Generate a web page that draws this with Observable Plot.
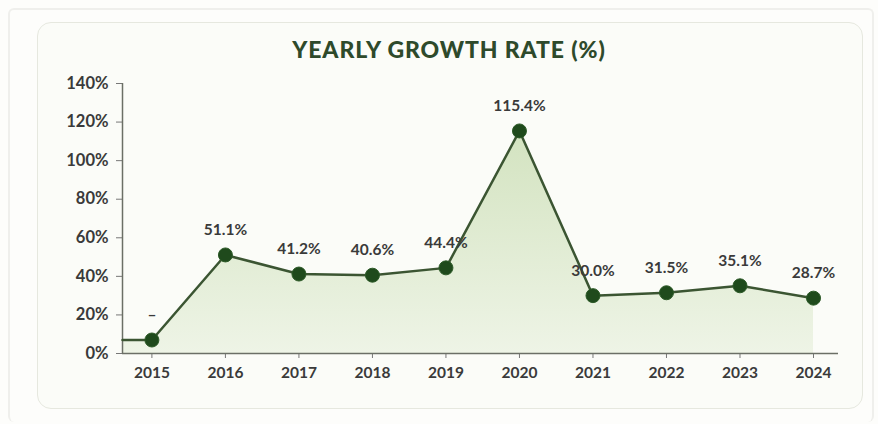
<!DOCTYPE html>
<html><head><meta charset="utf-8">
<script src="https://cdn.jsdelivr.net/npm/d3@7"></script>
<script src="https://cdn.jsdelivr.net/npm/@observablehq/plot@0.6"></script>
<style>
html,body{margin:0;padding:0;background:#fdfdfb;width:878px;height:424px;overflow:hidden;font-family:Lato,"Open Sans",sans-serif;}
#outer{position:absolute;left:8px;top:8px;width:862px;height:412px;border:2px solid #efefec;border-bottom:none;border-radius:6px;}
#card{position:absolute;left:37px;top:22px;width:824px;height:385px;border:1.5px solid #e6e8df;border-radius:14px;background:#fbfcf8;}
#title{position:absolute;left:36px;top:35px;width:826px;text-align:center;font-family:Lato,sans-serif;font-weight:900;font-size:23px;color:#2e4a2b;letter-spacing:0.9px;}
#chart{position:absolute;left:36px;top:70px;}
</style></head>
<body>
<div id="outer"></div>
<div id="card"></div>
<div id="title">YEARLY GROWTH RATE (%)</div>
<div id="chart"></div>
<script>
const years = [2015, 2016, 2017, 2018, 2019, 2020, 2021, 2022, 2023, 2024];
const growth = [7, 51.1, 41.2, 40.6, 44.4, 115.4, 30.0, 31.5, 35.1, 28.7];
const labels = ["–", "51.1%", "41.2%", "40.6%", "44.4%", "115.4%", "30.0%", "31.5%", "35.1%", "28.7%"];
const yTicks = [0, 20, 40, 60, 80, 100, 120, 140];

const xDomain = [2014.6, 2024.34];
const data = years.map((y, i) => ({year: y, value: growth[i], label: labels[i]}));
const lineData = [{year: xDomain[0], value: growth[0]}, ...data];

const chart = Plot.plot({
  width: 826, height: 330,
  marginLeft: 86, marginRight: 24, marginTop: 13, marginBottom: 47,
  style: {fontFamily: "Lato, 'Open Sans', sans-serif", fontSize: "15.5px", color: "#333", background: "transparent"},
  x: {domain: xDomain, ticks: years, tickFormat: d => String(d), tickSize: 5, tickPadding: 8, label: null},
  y: {domain: [0, 140], ticks: yTicks, tickFormat: d => d + "%", tickSize: 6, tickPadding: 8, label: null},
  marks: [
    Plot.areaY(lineData, {x: "year", y: "value", fill: "url(#areaGrad)"}),
    Plot.ruleY([0], {stroke: "#6b6f66", strokeWidth: 1.5}),
    Plot.ruleX([xDomain[0]], {stroke: "#6b6f66", strokeWidth: 1.5}),
    Plot.lineY(lineData, {x: "year", y: "value", stroke: "#3b5532", strokeWidth: 2.5}),
    Plot.dot(data, {x: "year", y: "value", r: 7, fill: "#1f4a1c", stroke: "#2c5a27", strokeWidth: 1}),
    Plot.text(data, {x: "year", y: "value", text: "label", dy: -25, fontSize: 15.5, fontWeight: 700, fill: "#3a3a3a"})
  ]
});
const svg = d3.select(chart);
const defs = svg.insert("defs", ":first-child");
const g = defs.append("linearGradient").attr("id", "areaGrad").attr("x1", 0).attr("y1", 0).attr("x2", 0).attr("y2", 1);
g.append("stop").attr("offset", "0%").attr("stop-color", "#d3e3c0");
g.append("stop").attr("offset", "100%").attr("stop-color", "#eef4e6");
svg.selectAll("[aria-label='x-axis tick label'] text").attr("font-weight", 700).attr("fill", "#3a3a3a");
svg.selectAll("[aria-label='y-axis tick label'] text").attr("font-weight", 700).attr("fill", "#3a3a3a").attr("font-size", "16.5px");
svg.selectAll("[aria-label='x-axis tick'], [aria-label='y-axis tick']").attr("stroke", "#777");
document.getElementById("chart").appendChild(chart);
</script>
</body></html>
